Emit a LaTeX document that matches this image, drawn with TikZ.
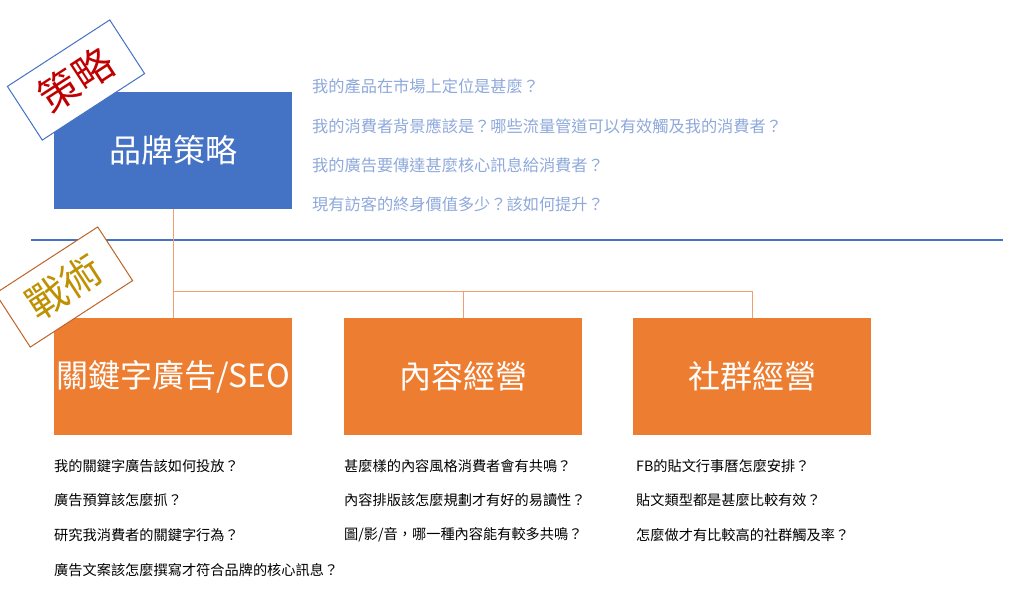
\documentclass[tikz,border=0pt]{standalone}
\usepackage{fontspec}
\setmainfont{Noto Sans CJK TC}
\begin{document}
\begin{tikzpicture}[x=1pt,y=-1pt,
 box/.style={minimum width=238pt,minimum height=117pt,anchor=north west,inner sep=0pt,text=white,font=\fontsize{32}{34}\selectfont},
 q/.style={anchor=west,inner sep=0pt,font=\fontsize{14.2}{15}\selectfont},
 bq/.style={anchor=west,inner sep=0pt,font=\fontsize{16.2}{17}\selectfont,text=qblue},
 tag/.style={fill=white,line width=1pt,rotate=33,minimum width=122pt,minimum height=64pt,inner sep=0pt,font=\fontsize{40}{42}\selectfont},
 conn/.style={draw=lorange,line width=1pt}]
\definecolor{sblue}{HTML}{4472C4}
\definecolor{sorange}{HTML}{ED7D31}
\definecolor{lorange}{HTML}{F0A070}
\definecolor{qblue}{HTML}{8EA9DB}
\definecolor{sred}{HTML}{C00000}
\definecolor{gold}{HTML}{BF9000}
\useasboundingbox (0,0) rectangle (1024,614);
\fill[white] (0,0) rectangle (1024,614);
\draw[sblue,line width=2.5pt] (31,240) -- (1003,240);
\node[box,fill=sblue] (brand) at (54,92) {品牌策略};
\node[box,fill=sorange] (kw) at (54,318) {關鍵字廣告/SEO};
\node[box,fill=sorange] (ct) at (344,318) {內容經營};
\node[box,fill=sorange] (sc) at (633,318) {社群經營};
\coordinate (j) at (brand.south |- 0,291);
\draw[conn] (brand.south) -- (kw.north);
\draw[conn] (j) -- (sc.north |- j) -- (sc.north);
\draw[conn] (ct.north |- j) -- (ct.north);
\node[tag,draw=sblue,text=sred] (s) at (76,80) {策略};
\node[tag,draw=sorange!80!black,text=gold] (t) at (64,287) {戰術};
\node[bq] (b1) at (312,86) {我的產品在市場上定位是甚麼？};
\node[bq] (b2) at (312,126) {我的消費者背景應該是？哪些流量管道可以有效觸及我的消費者？};
\node[bq] (b3) at (312,165) {我的廣告要傳達甚麼核心訊息給消費者？};
\node[bq] (b4) at (312,204) {現有訪客的終身價值多少？該如何提升？};
\node[q] (k1) at (54,466) {我的關鍵字廣告該如何投放？};
\node[q] (k2) at (54,500) {廣告預算該怎麼抓？};
\node[q] (k3) at (54,535) {研究我消費者的關鍵字行為？};
\node[q] (k4) at (54,570) {廣告文案該怎麼撰寫才符合品牌的核心訊息？};
\node[q] (c1) at (344,466) {甚麼樣的內容風格消費者會有共鳴？};
\node[q] (c2) at (344,500) {內容排版該怎麼規劃才有好的易讀性？};
\node[q] (c3) at (344,535) {圖/影/音，哪一種內容能有較多共鳴？};
\node[q] (s1) at (636,466) {FB的貼文行事曆怎麼安排？};
\node[q] (s2) at (636,500) {貼文類型都是甚麼比較有效？};
\node[q] (s3) at (636,535) {怎麼做才有比較高的社群觸及率？};
\end{tikzpicture}
\end{document}
